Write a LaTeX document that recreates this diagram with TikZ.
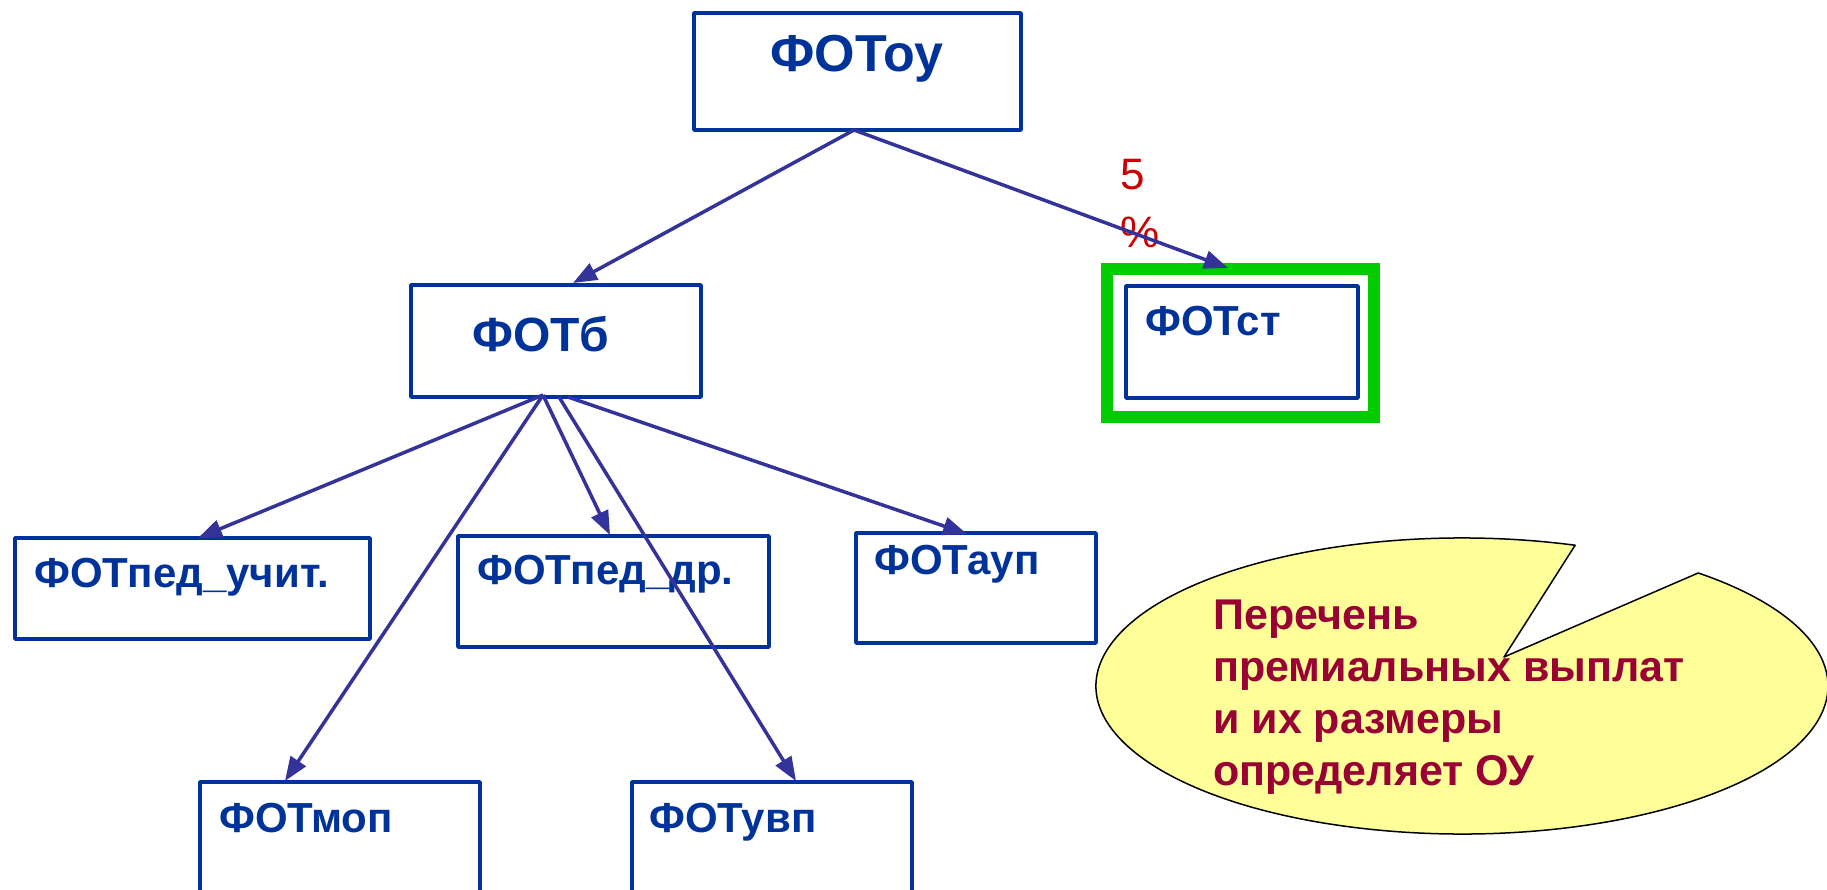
\documentclass[tikz,border=0pt]{standalone}
\usepackage{fontspec}
\setmainfont{Liberation Sans}
\usetikzlibrary{arrows.meta,calc}
\definecolor{boxblue}{HTML}{003399}
\definecolor{arrblue}{HTML}{333399}
\definecolor{txtblue}{HTML}{003399}
\definecolor{calltxt}{HTML}{990033}
\definecolor{pctred}{HTML}{CC0000}
\definecolor{greenfr}{HTML}{00CC00}
\definecolor{callfill}{HTML}{FFFF99}
\begin{document}
\begin{tikzpicture}[x=1pt,y=-1pt,
 fbox/.style={draw=boxblue, line width=3.5pt, fill=white, rectangle, inner sep=0pt, outer sep=0pt, anchor=north west, line join=round},
 big/.style={font=\fontsize{48}{58}\selectfont\bfseries, text=txtblue, inner sep=0pt, anchor=base west},
 small/.style={font=\fontsize{42}{50}\selectfont\bfseries, text=txtblue, inner sep=0pt, anchor=base west},
 arr/.style={draw=arrblue, line width=3.5pt, -{Triangle[length=24pt,width=18pt]}},
]
\clip (0,0) rectangle (1827,890);
\fill[white] (0,0) rectangle (1827,890);

% boxes
\node[fbox, minimum width=327pt, minimum height=117pt] (oy) at (694,13) {};
\node[fbox, minimum width=290pt, minimum height=112pt] (b) at (411,285) {};
\node[draw=greenfr, line width=12pt, rectangle, inner sep=0pt, outer sep=0pt, anchor=north west, minimum width=267pt, minimum height=148pt] (gf) at (1107,269) {};
\node[fbox, minimum width=232pt, minimum height=112pt] (st) at (1126,286) {};
\node[fbox, minimum width=355pt, minimum height=101pt] (pu) at (15,538) {};
\node[fbox, minimum width=311pt, minimum height=111pt] (pd) at (458,536) {};
\node[fbox, minimum width=240pt, minimum height=110pt] (aup) at (856,533) {};
\node[fbox, minimum width=280pt, minimum height=130pt] (mop) at (200,782) {};
\node[fbox, minimum width=280pt, minimum height=130pt] (uvp) at (632,782) {};

% labels
\node[big, font=\fontsize{52}{60}\selectfont\bfseries] (oyt) at ($(oy.north west)+(76,59)$) {ФОТоу};
\node[big] (bt) at ($(b.north west)+(61,67)$) {ФОТб};
\node[small] (stt) at ($(st.north west)+(19,49)$) {ФОТст};
\node[small] (put) at ($(pu.north west)+(19,49)$) {ФОТпед\_учит.};
\node[small] (pdt) at ($(pd.north west)+(19,48)$) {ФОТпед\_др.};
\node[small] (aupt) at ($(aup.north west)+(18,41)$) {ФОТауп};
\node[small] (mopt) at ($(mop.north west)+(19,50)$) {ФОТмоп};
\node[small] (uvpt) at ($(uvp.north west)+(17,50)$) {ФОТувп};

% percent
\node[font=\fontsize{44}{58}\selectfont, text=pctred, inner sep=0pt, anchor=base west, align=left] (pct) at (1120,248) {5\\\%};

% connectors
\coordinate (oyS) at ($(oy.south west)+(160,0)$);
\coordinate (bS1) at ($(b.south west)+(132,-2)$);
\coordinate (bS2) at ($(b.south west)+(148,0)$);
\coordinate (bS3) at ($(b.south west)+(157,0)$);
\draw[arr] (oyS) -- ($(b.north west)+(162,-2)$);
\draw[arr] (oyS) -- ($(gf.north west)+(121,-1)$);
\draw[arr] (bS1) -- ($(pu.north west)+(183,0)$);
\draw[arr] (bS1) -- ($(mop.north west)+(85,-1)$);
\draw[arr] (bS1) -- ($(pd.north west)+(152,-1)$);
\draw[arr] (bS2) -- ($(uvp.north west)+(164,-1)$);
\draw[arr] (bS3) -- ($(aup.north west)+(111,1)$);

% callout
\coordinate (ec) at (1462,686);
\coordinate (tip) at (1504,657);
\draw[fill=callfill, draw=black, line width=1.5pt, line join=round]
  (tip) -- ($(ec)+(-72:366 and 148)$)
  arc[start angle=-72, end angle=-409.8, x radius=366, y radius=148] -- cycle;
\node[font=\fontsize{43}{51.7}\selectfont\bfseries, text=calltxt, inner sep=0pt, anchor=base west, align=left] (callt) at (1213,785)
 {Перечень\\премиальных выплат\\и их размеры\\определяет ОУ};
\end{tikzpicture}
\end{document}
